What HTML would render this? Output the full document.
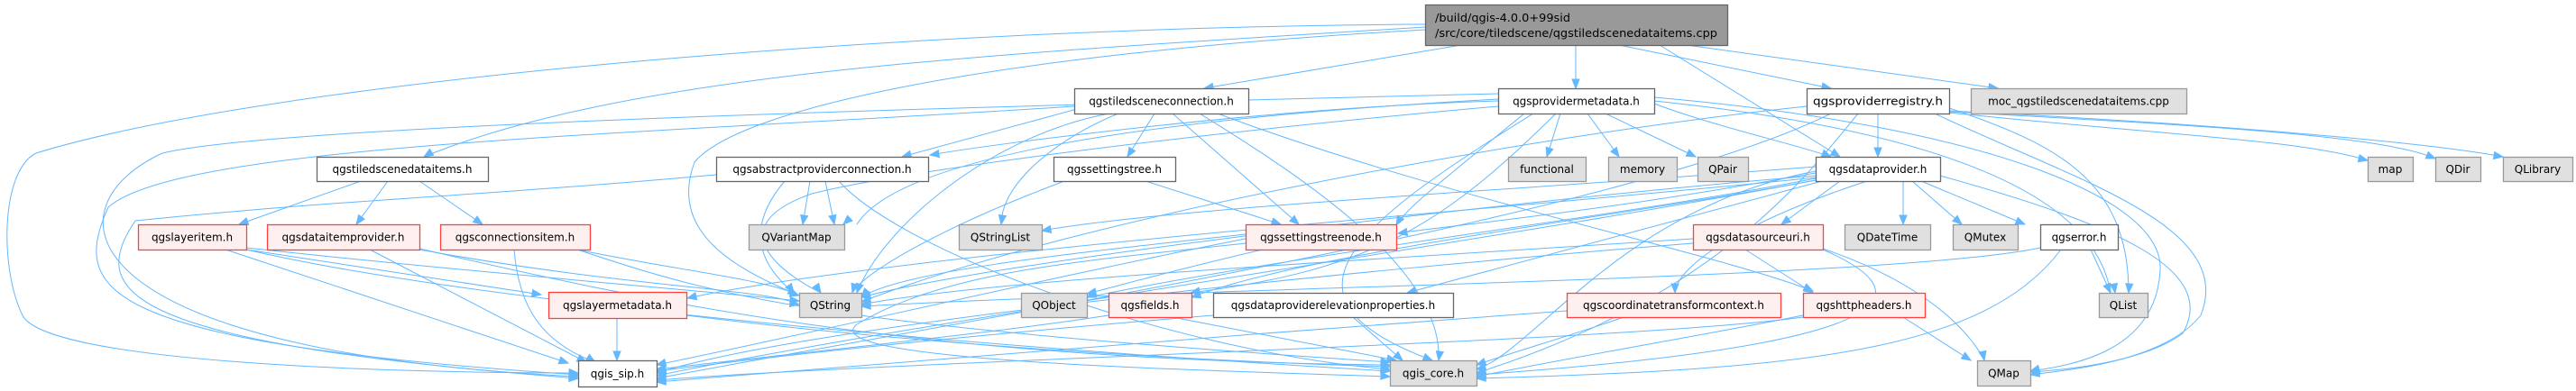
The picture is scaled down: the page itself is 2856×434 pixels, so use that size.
<!DOCTYPE html>
<html><head><meta charset="utf-8">
<style>
html,body{margin:0;padding:0;background:#fff;}
svg{display:block;}
text{font-family:"DejaVu Sans","Liberation Sans",sans-serif;font-size:12px;fill:#000;}
</style></head>
<body>
<svg id="g" width="2856" height="434" viewBox="0 0 2856 434" xmlns="http://www.w3.org/2000/svg">
<g id="edges" fill="none" stroke="#63b8ff" stroke-width="1"></g>
<g id="heads" fill="#63b8ff" stroke="#63b8ff"></g>
<g id="nodes"></g>
</svg>
<script>
var N={
main:[1580,5,1915,50,'m'],
dataitems:[351,174,541,201,'w','qgstiledscenedataitems.h'],
conn:[1191,98,1384,126,'w','qgstiledsceneconnection.h'],
provmeta:[1661,98,1834,126,'w','qgsprovidermetadata.h'],
provreg:[2003,98,2161,126,'w','qgsproviderregistry.h'],
moc:[2185,98,2424,126,'g','moc_qgstiledscenedataitems.cpp'],
abstractconn:[794,174,1029,201,'w','qgsabstractproviderconnection.h'],
settingstree:[1168,174,1303,201,'w','qgssettingstree.h'],
functional:[1672,174,1758,201,'g','functional'],
memory:[1783,174,1859,201,'g','memory'],
QPair:[1882,174,1938,201,'g','QPair'],
dataprovider:[2013,174,2151,201,'w','qgsdataprovider.h'],
map:[2625,174,2675,201,'g','map'],
QDir:[2700,174,2750,201,'g','QDir'],
QLibrary:[2775,174,2852,201,'g','QLibrary'],
layeritem:[153,249,273,277,'r','qgslayeritem.h'],
dataitemprovider:[296,249,465,277,'r','qgsdataitemprovider.h'],
connectionsitem:[488,249,654,277,'r','qgsconnectionsitem.h'],
QVariantMap:[830,249,936,277,'g','QVariantMap'],
QStringList:[1063,249,1155,277,'g','QStringList'],
settingstreenode:[1381,249,1548,277,'r','qgssettingstreenode.h'],
datasourceuri:[1877,249,2021,277,'r','qgsdatasourceuri.h'],
QDateTime:[2045,249,2140,277,'g','QDateTime'],
QMutex:[2165,249,2237,277,'g','QMutex'],
qgserror:[2262,249,2348,277,'w','qgserror.h'],
layermetadata:[608,324,761,353,'r','qgslayermetadata.h'],
QString:[886,325,955,352,'g','QString'],
QObject:[1132,325,1205,352,'g','QObject'],
fields:[1229,325,1321,352,'r','qgsfields.h'],
elevprops:[1345,325,1611,352,'w','qgsdataproviderelevationproperties.h'],
coordtc:[1737,325,1974,352,'r','qgscoordinatetransformcontext.h'],
httpheaders:[1999,325,2134,352,'r','qgshttpheaders.h'],
QList:[2327,325,2381,352,'g','QList'],
qgis_sip:[641,400,728,429,'w','qgis_sip.h'],
qgis_core:[1541,400,1637,428,'g','qgis_core.h'],
QMap:[2192,400,2251,428,'g','QMap']
};
var NS='http://www.w3.org/2000/svg';
function el(t,a,p){var e=document.createElementNS(NS,t);for(var k in a)e.setAttribute(k,a[k]);p.appendChild(e);return e;}
var E=document.getElementById('edges'),H=document.getElementById('heads'),G=document.getElementById('nodes');
function head(x,y,px,py){var dx=x-px,dy=y-py,l=Math.sqrt(dx*dx+dy*dy)||1;dx/=l;dy/=l;var L=10,W=4;
var bx=x-dx*L,by=y-dy*L;el('path',{d:'M'+x+','+y+'L'+(bx-dy*W)+','+(by+dx*W)+'L'+(bx+dy*W)+','+(by-dx*W)+'Z'},H);}
function s(x1,y1,x2,y2){el('path',{d:'M'+x1+','+y1+'L'+x2+','+y2},E);head(x2,y2,x1,y1);}
function c(d,x2,y2,px,py){el('path',{d:d},E);head(x2,y2,px,py);}
// main
c('M1580,30C1100,60 700,80 470,174',470,174,560,120);
s(1620,50,1335,98);
s(1747,50,1747,98);
s(1795,50,2030,98);
s(1870,50,2215,98);
s(1840,50,2040,174);
c('M1580,27C1000,30 300,90 40,170C0,190 0,300 25,350C50,400 400,414 641,414',641,414,600,412);
c('M1580,33C1100,60 820,120 770,180C740,260 820,300 884,327',884,327,860,315);
// conn
s(1205,118,1000,174);
s(1280,126,1250,174);
c('M1240,126C1180,150 1110,200 1110,249',1110,249,1112,235);
s(1300,126,1440,249);
c('M1330,126C1450,200 1600,300 1595,400',1595,400,1597,385);
c('M1230,126C1100,150 980,250 950,325',950,325,955,310);
c('M1191,118C700,150 200,160 120,230C80,320 100,380 641,416',641,416,600,413);
c('M1350,126C1600,220 1900,280 2010,323',2010,323,1995,316);
// provmeta
s(1730,126,1715,174);s(1760,126,1795,174);s(1780,126,1880,174);
c('M1661,112C1400,120 1100,160 1031,172',1031,172,1045,170);
c('M1661,110C1300,130 1000,170 950,249',935,249,950,235);
c('M1661,118C1300,150 1000,190 900,215C800,250 860,300 910,325',910,325,900,310);
c('M1661,104C1000,120 300,140 180,170C50,230 70,390 641,418',641,418,600,414);
c('M1700,126C1500,250 1400,330 1588,400',1588,400,1570,393);
c('M1834,115C1900,140 1990,160 2030,174',2030,174,2018,169);
c('M1834,108C2200,140 2400,220 2395,300C2390,390 2300,405 2251,412',2251,412,2262,409);
c('M1834,112C2100,140 2320,200 2340,325',2345,325,2343,312);
c('M1725,126C1600,250 1520,300 1320,325',1320,325,1335,322);
c('M1690,126C1600,200 1560,230 1548,250',1548,250,1552,243);
// dataprovider
s(2110,201,2110,249);s(2120,201,2175,249);s(2130,201,2245,249);
s(2040,201,1975,249);
c('M2013,195C1700,220 1100,290 955,330',955,330,968,327);
c('M2013,185C1700,210 1300,230 1155,256',1155,256,1168,254);
c('M2013,190C1800,230 1700,390 1637,410',1637,410,1650,406);
c('M2013,200C1700,260 1000,360 728,417',728,417,740,414);
c('M2151,195C2350,250 2460,300 2420,370C2380,400 2300,410 2251,413',2251,413,2262,411);
c('M2020,201C1800,260 1650,300 1560,325',1560,325,1575,321);
c('M2070,201C1950,240 1860,290 1857,325',1857,325,1857,312);
c('M2013,197C1700,230 1000,280 762,331',762,331,775,328);
c('M2013,200C1800,240 1450,280 1321,330',1321,330,1333,326);
c('M2013,198C1800,240 1450,280 1205,330',1205,330,1218,325);
c('M2013,192C1800,230 1700,240 1555,258',1550,259,1563,257);
// provreg
s(2082,126,2082,174);
c('M2161,125C2400,150 2550,155 2625,178',2625,178,2612,175);
c('M2161,124C2450,140 2640,150 2700,176',2700,176,2688,171);
c('M2161,123C2500,140 2700,160 2775,174',2775,174,2762,172);
c('M2145,126C2300,200 2480,250 2440,350C2400,400 2300,410 2251,416',2251,416,2262,414);
c('M2060,126C2000,200 1900,330 1637,414',1637,414,1650,410);
c('M2003,118C1700,150 1200,240 955,335',955,335,968,331);
c('M2030,126C1800,240 1100,350 728,420',728,420,740,418);
c('M2161,120C2280,160 2360,200 2360,325',2360,325,2361,312);
// datasourceuri etc
s(1935,277,2010,325);
c('M2021,276C2150,320 2190,380 2200,400',2200,400,2198,390);
c('M2021,277C2120,320 2150,380 1637,416',1637,416,1650,414);
c('M1877,270C1500,300 900,360 728,414',728,414,740,411);
c('M1877,265C1500,290 1100,310 955,338',955,338,968,335);
s(2110,352,2185,400);
c('M1999,350C1900,370 1750,395 1637,418',1637,418,1650,416);
c('M1999,352C1800,380 1000,400 728,422',728,422,740,421);
c('M2262,275C2100,310 1300,320 955,340',955,340,968,339);
s(2318,277,2340,325);
c('M2285,277C2200,390 2000,410 1637,420',1637,420,1650,419);
c('M1800,352C1750,370 1680,390 1637,405',1637,405,1648,401);
c('M1737,345C1400,370 1000,400 728,424',728,424,740,423);
s(1500,352,1555,400);
c('M1345,350C1100,370 900,390 728,412',728,412,740,410);
s(1300,352,1548,400);
c('M1229,350C1100,370 900,390 728,410',728,410,740,408);
// settingstreenode
c('M1381,260C1200,280 1000,300 955,330',955,330,962,322);
c('M1400,277C1300,300 1230,320 1205,326',1205,326,1215,324);
c('M1381,270C1200,290 1050,300 950,360C900,400 1300,410 1541,418',1541,418,1528,417);
c('M1381,265C1200,300 900,370 728,405',728,405,740,402);
// settingstree
s(1270,201,1420,249);
c('M1180,201C1050,250 960,300 945,325',945,325,948,315);
// abstractconn
s(898,201,890,249);s(915,201,925,249);
c('M870,201C820,260 850,300 880,325',880,325,875,318);
c('M930,201C1000,280 1300,390 1541,410',1541,410,1528,408);
c('M794,194C500,220 400,220 150,245C100,320 120,380 641,420',641,420,600,418);
// dataitems
s(400,201,265,249);s(430,201,395,249);s(465,201,535,249);
// layeritem
s(273,277,600,327);
c('M273,275C500,300 750,320 886,334',886,334,873,333);
c('M273,277C500,330 1000,380 1541,412',1541,412,1528,411);
s(250,277,630,403);
// dataitemprovider
c('M465,277C700,320 850,320 886,338',886,338,873,336);
c('M465,276C700,330 1000,400 1541,405',1541,405,1528,405);
s(410,277,650,402);
// connectionsitem
c('M640,277C750,300 850,310 886,328',886,328,873,324);
c('M640,277C800,330 900,360 1541,402',1541,402,1528,401);
c('M570,277C575,340 600,380 660,402',660,402,650,396);
// layermetadata
s(684,353,684,400);
c('M761,350C1000,380 1300,400 1541,407',1541,407,1528,407);
// nodes
for(var k in N){var n=N[k];var x=n[0],y=n[1],w=n[2]-n[0],h=n[3]-n[1],t=n[4];
var fill='#fff',st='#666';if(t=='g'){fill='#e0e0e0';st='#999';}if(t=='r'){fill='#fff0f0';st='#ff4040';}if(t=='m'){fill='#999';st='#666';}
el('rect',{x:x+0.5,y:y+0.5,width:w,height:h,fill:fill,stroke:st,'stroke-width':1.3},G);
if(t=='m'){var a=el('text',{x:1591,y:24,textLength:150,lengthAdjust:'spacingAndGlyphs'},G);a.textContent='/build/qgis-4.0.0+99sid';
var b=el('text',{x:1591,y:41,textLength:313,lengthAdjust:'spacingAndGlyphs'},G);b.textContent='/src/core/tiledscene/qgstiledscenedataitems.cpp';}
else{var attrs={x:x+w/2,y:y+h/2+4.5,'text-anchor':'middle'};var nat=n[5].length*7.0;
if(nat>w-14){attrs.textLength=w-14;attrs.lengthAdjust='spacingAndGlyphs';}
var tx=el('text',attrs,G);tx.textContent=n[5];}}
</script>
</body></html>
